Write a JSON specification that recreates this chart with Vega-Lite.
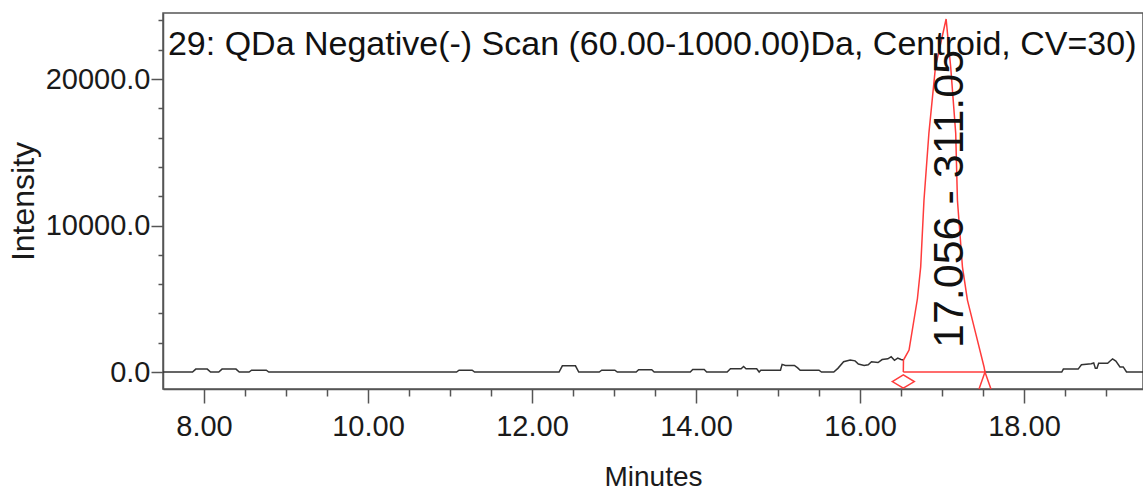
{
  "$schema": "https://vega.github.io/schema/vega-lite/v6.json",
  "width": 980,
  "height": 376,
  "autosize": {"type": "none"},
  "padding": {"left": 163, "top": 13, "right": 0, "bottom": 107},
  "background": "white",
  "config": {
    "view": {"stroke": "#555555", "strokeWidth": 1.5},
    "font": "Liberation Sans, Arial",
    "axis": {
      "domainColor": "#555555", "domainWidth": 1.5,
      "tickColor": "#555555", "tickWidth": 1.5,
      "labelColor": "#1a1a1a", "titleColor": "#1a1a1a",
      "labelFont": "Liberation Sans, Arial",
      "titleFont": "Liberation Sans, Arial",
      "titleFontWeight": "normal", "grid": false, "labelOverlap": false
    }
  },
  "resolve": {"axis": {"y": "independent"}},
  "datasets": {
    "trace": [
      {"s": "A", "t": 7.5, "i": 0}, {"s": "A", "t": 7.86, "i": 0}, {"s": "A", "t": 7.9, "i": 200}, {"s": "A", "t": 8.04, "i": 200},
      {"s": "A", "t": 8.08, "i": 0}, {"s": "A", "t": 8.18, "i": 0}, {"s": "A", "t": 8.22, "i": 200}, {"s": "A", "t": 8.39, "i": 200},
      {"s": "A", "t": 8.43, "i": 0}, {"s": "A", "t": 8.55, "i": 0}, {"s": "A", "t": 8.58, "i": 120}, {"s": "A", "t": 8.76, "i": 120},
      {"s": "A", "t": 8.79, "i": 0}, {"s": "A", "t": 11.08, "i": 0}, {"s": "A", "t": 11.11, "i": 120}, {"s": "A", "t": 11.27, "i": 120},
      {"s": "A", "t": 11.3, "i": 0}, {"s": "A", "t": 12.33, "i": 0}, {"s": "A", "t": 12.37, "i": 420}, {"s": "A", "t": 12.53, "i": 420},
      {"s": "A", "t": 12.57, "i": 0}, {"s": "A", "t": 12.82, "i": 0}, {"s": "A", "t": 12.85, "i": 120}, {"s": "A", "t": 13.01, "i": 120},
      {"s": "A", "t": 13.04, "i": 0}, {"s": "A", "t": 13.27, "i": 0}, {"s": "A", "t": 13.3, "i": 150}, {"s": "A", "t": 13.46, "i": 150},
      {"s": "A", "t": 13.49, "i": 0}, {"s": "A", "t": 13.93, "i": 0}, {"s": "A", "t": 13.96, "i": 170}, {"s": "A", "t": 14.1, "i": 170},
      {"s": "A", "t": 14.13, "i": 0}, {"s": "A", "t": 14.38, "i": 0}, {"s": "A", "t": 14.42, "i": 220}, {"s": "A", "t": 14.55, "i": 220},
      {"s": "A", "t": 14.58, "i": 380}, {"s": "A", "t": 14.61, "i": 220}, {"s": "A", "t": 14.74, "i": 220}, {"s": "A", "t": 14.77, "i": 0},
      {"s": "A", "t": 14.79, "i": 120}, {"s": "A", "t": 15.03, "i": 120}, {"s": "A", "t": 15.05, "i": 520}, {"s": "A", "t": 15.09, "i": 450},
      {"s": "A", "t": 15.2, "i": 450}, {"s": "A", "t": 15.24, "i": 280}, {"s": "A", "t": 15.27, "i": 120}, {"s": "A", "t": 15.5, "i": 120},
      {"s": "A", "t": 15.53, "i": 0}, {"s": "A", "t": 15.68, "i": 0}, {"s": "A", "t": 15.73, "i": 250}, {"s": "A", "t": 15.8, "i": 700},
      {"s": "A", "t": 15.88, "i": 820}, {"s": "A", "t": 15.94, "i": 760}, {"s": "A", "t": 15.98, "i": 550}, {"s": "A", "t": 16.05, "i": 450},
      {"s": "A", "t": 16.1, "i": 500}, {"s": "A", "t": 16.14, "i": 700}, {"s": "A", "t": 16.22, "i": 650}, {"s": "A", "t": 16.27, "i": 850},
      {"s": "A", "t": 16.34, "i": 900}, {"s": "A", "t": 16.38, "i": 1050}, {"s": "A", "t": 16.42, "i": 800}, {"s": "A", "t": 16.46, "i": 950},
      {"s": "A", "t": 16.5, "i": 850}, {"s": "A", "t": 16.53, "i": 818},
      {"s": "B", "t": 17.524, "i": 0}, {"s": "B", "t": 18.46, "i": 0}, {"s": "B", "t": 18.48, "i": 200}, {"s": "B", "t": 18.66, "i": 200},
      {"s": "B", "t": 18.7, "i": 500}, {"s": "B", "t": 18.82, "i": 570}, {"s": "B", "t": 18.85, "i": 620}, {"s": "B", "t": 18.87, "i": 250},
      {"s": "B", "t": 18.89, "i": 250}, {"s": "B", "t": 18.91, "i": 600}, {"s": "B", "t": 19.02, "i": 600}, {"s": "B", "t": 19.05, "i": 750},
      {"s": "B", "t": 19.08, "i": 900}, {"s": "B", "t": 19.12, "i": 750}, {"s": "B", "t": 19.17, "i": 350}, {"s": "B", "t": 19.21, "i": 350},
      {"s": "B", "t": 19.25, "i": 0}, {"s": "B", "t": 19.46, "i": 0}
    ],
    "peak": [
      {"s": "P", "t": 16.528, "i": 0}, {"s": "P", "t": 16.53, "i": 818}, {"s": "P", "t": 16.598, "i": 1500}, {"s": "P", "t": 16.7, "i": 5000},
      {"s": "P", "t": 16.74, "i": 7180}, {"s": "P", "t": 16.78, "i": 11729}, {"s": "P", "t": 16.84, "i": 16297}, {"s": "P", "t": 16.92, "i": 20818},
      {"s": "P", "t": 17.05, "i": 24100}, {"s": "P", "t": 17.106, "i": 20818}, {"s": "P", "t": 17.167, "i": 16297}, {"s": "P", "t": 17.188, "i": 11729},
      {"s": "P", "t": 17.249, "i": 7180}, {"s": "P", "t": 17.31, "i": 4910}, {"s": "P", "t": 17.41, "i": 2659}, {"s": "P", "t": 17.512, "i": 361},
      {"s": "P", "t": 17.524, "i": 0},
      {"s": "Q", "t": 16.528, "i": 0}, {"s": "Q", "t": 17.524, "i": 0}
    ],
    "marks": [
      {"m": "start", "t": 16.528, "i": -650},
      {"m": "end", "t": 17.524, "i": -580}
    ]
  },
  "layer": [
    {
      "data": {"name": "trace"},
      "mark": {"type": "line", "color": "#333333", "strokeWidth": 1.5},
      "encoding": {
        "x": {
          "field": "t", "type": "quantitative",
          "scale": {"domain": [7.5, 19.451], "nice": false, "zero": false},
          "axis": {
            "title": "Minutes",
            "values": [8, 8.5, 9, 9.5, 10, 10.5, 11, 11.5, 12, 12.5, 13, 13.5, 14, 14.5, 15, 15.5, 16, 16.5, 17, 17.5, 18, 18.5, 19],
            "labelExpr": "datum.value % 2 == 0 ? format(datum.value, '.2f') : ''",
            "tickSize": {"condition": {"test": "datum.value % 2 == 0", "value": 14}, "value": 7},
            "labelOverlap": false,
            "labelFontSize": 29, "labelPadding": 9,
            "titleFontSize": 28, "titlePadding": 22
          }
        },
        "y": {
          "field": "i", "type": "quantitative",
          "scale": {"domain": [-1160, 24510], "nice": false, "zero": false},
          "axis": {
            "orient": "left",
            "title": "Intensity",
            "values": [0, 10000, 20000],
            "format": ".1f",
            "tickSize": 12,
            "labelOverlap": false,
            "labelFontSize": 29,
            "labelPadding": 1,
            "titleFontSize": 32, "titlePadding": 5
          }
        },
        "detail": {"field": "s"}
      }
    },
    {
      "data": {"name": "peak"},
      "mark": {"type": "line", "color": "#ff3b3b", "strokeWidth": 1.5},
      "encoding": {
        "x": {"field": "t", "type": "quantitative"},
        "y": {
          "field": "i", "type": "quantitative",
          "axis": {
            "orient": "left",
            "title": null,
            "values": [2000, 4000, 6000, 8000, 12000, 14000, 16000, 18000, 22000, 24000],
            "labels": false,
            "domain": false,
            "tickSize": 5
          }
        },
        "detail": {"field": "s"}
      }
    },
    {
      "data": {"name": "marks"},
      "transform": [{"filter": "datum.m == 'start'"}],
      "mark": {"type": "point", "shape": "M-1,0L0,-0.6L1,0L0,0.6Z", "size": 484, "filled": false, "stroke": "#ff3b3b", "strokeWidth": 1.5, "opacity": 1},
      "encoding": {
        "x": {"field": "t", "type": "quantitative"},
        "y": {"field": "i", "type": "quantitative", "axis": null}
      }
    },
    {
      "data": {"name": "marks"},
      "transform": [{"filter": "datum.m == 'end'"}],
      "mark": {"type": "point", "shape": "M-0.7,1L0,-1L0.7,1", "size": 289, "filled": false, "stroke": "#ff3b3b", "strokeWidth": 1.5, "opacity": 1},
      "encoding": {
        "x": {"field": "t", "type": "quantitative"},
        "y": {"field": "i", "type": "quantitative", "axis": null}
      }
    },
    {
      "data": {"values": [{"label": "17.056 - 311.05"}]},
      "mark": {"type": "text", "angle": 270, "align": "left", "baseline": "middle", "fontSize": 43, "color": "#111111", "font": "Liberation Sans, Arial"},
      "encoding": {
        "x": {"datum": 17.1, "type": "quantitative"},
        "y": {"datum": 1640, "type": "quantitative", "axis": null},
        "text": {"field": "label"}
      }
    },
    {
      "data": {"values": [{"label": "29: QDa Negative(-) Scan (60.00-1000.00)Da, Centroid, CV=30)"}]},
      "mark": {"type": "text", "align": "left", "baseline": "alphabetic", "fontSize": 34, "color": "#111111", "font": "Liberation Sans, Arial"},
      "encoding": {
        "x": {"datum": 7.56, "type": "quantitative"},
        "y": {"datum": 21641, "type": "quantitative", "axis": null},
        "text": {"field": "label"}
      }
    }
  ]
}
